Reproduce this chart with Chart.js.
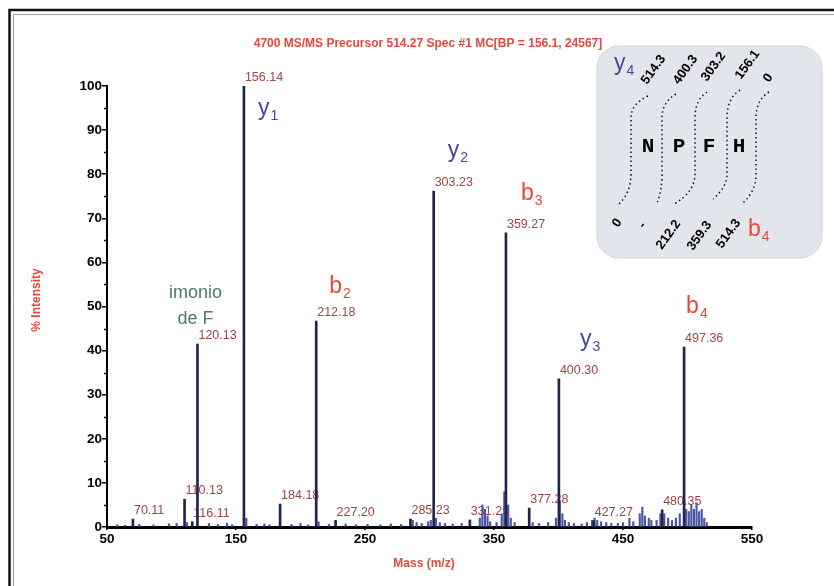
<!DOCTYPE html>
<html>
<head>
<meta charset="utf-8">
<title>MS/MS spectrum</title>
<script src="https://cdn.jsdelivr.net/npm/chart.js"></script>
<style>
  body { margin: 0; background: #fff; }
  canvas { display: block; }
</style>
</head>
<body>
<canvas id="spectrum" width="834" height="586"></canvas>
<script>
// axis ticks
var xTicks = [50, 150, 250, 350, 450, 550];
var yTicks = [0, 10, 20, 30, 40, 50, 60, 70, 80, 90, 100];

// labelled peaks (m/z, % intensity)
var peakMass  = [70.11, 110.13, 116.11, 120.13, 156.14, 184.18, 212.18, 227.20, 285.23, 303.23, 331.29, 359.27, 377.28, 400.30, 427.27, 480.35, 497.36];
var peakInt   = [1.8, 6.3, 1.2, 41.5, 100, 5.2, 46.7, 1.5, 1.8, 76.2, 1.6, 66.7, 4.3, 33.6, 1.5, 3.9, 40.8];
var peakLabel = ['70.11', '110.13', '116.11', '120.13', '156.14', '184.18', '212.18', '227.20', '285.23', '303.23', '331.29', '359.27', '377.28', '400.30', '427.27', '480.35', '497.36'];

// unlabelled baseline / cluster signals
var noiseMass = [58, 64, 75, 86, 98, 104, 112, 129, 136, 143, 147, 158, 166, 172, 176, 193, 200, 206,
                 214, 222, 235, 243, 252, 262, 270, 278, 287, 290, 294, 299, 301, 305, 308, 312, 318, 325,
                 339, 341, 343, 345, 347, 352, 356, 358, 361, 363, 366, 380, 385, 392, 398, 401, 403, 405,
                 408, 412, 418, 422, 426, 428, 430, 433, 437, 441, 446, 450, 455, 458, 463, 465, 467, 470,
                 472, 476, 479, 482, 485, 488, 491, 494, 499, 501, 503, 505, 507, 509, 511, 513, 515];
var noiseInt  = [0.5, 0.4, 0.6, 0.5, 0.7, 0.8, 1.0, 0.8, 0.6, 0.9, 0.5, 2.0, 0.6, 0.7, 0.5, 0.6, 0.8, 0.5,
                 1.2, 0.6, 0.7, 0.5, 0.6, 0.5, 0.7, 0.6, 1.5, 1.0, 0.8, 1.2, 1.5, 2.0, 1.0, 0.8, 0.7, 0.8,
                 2.0, 5.0, 4.0, 2.5, 1.2, 1.0, 3.0, 8.0, 5.0, 2.0, 1.0, 1.0, 0.8, 1.0, 2.0, 6.0, 3.0, 1.5,
                 1.0, 0.8, 0.7, 1.0, 1.5, 2.0, 1.5, 1.2, 1.0, 0.8, 0.8, 1.0, 2.0, 1.2, 3.0, 4.5, 2.5, 2.0,
                 1.5, 1.5, 3.0, 3.0, 2.0, 1.5, 2.0, 3.0, 4.0, 3.5, 5.0, 4.0, 5.5, 3.5, 4.0, 2.0, 1.0];

// fragment ion annotations
var ionLetter = ['y', 'y', 'b', 'b', 'y', 'b'];
var ionIndex  = ['1', '2', '3', '2', '3', '4'];
var ionMass   = [156.14, 303.23, 359.27, 212.18, 400.30, 497.36];
var ionOffset = [[14, 29], [14, -34], [15, -33], [13, -28], [21, -33], [2, -34]];

var title = '4700 MS/MS Precursor 514.27 Spec #1 MC[BP = 156.1, 24567]';
var sequence = ['N', 'P', 'F', 'H'];
var ySeries = ['514.3', '400.3', '303.2', '156.1', '0'];
var bSeries = ['0', '-', '212.2', '359.3', '514.3'];

var RED = '#e6483c', BLUE = '#45479c', LABEL = '#9c4646';

function drawIon(ctx, letter, sub, x, y, color, big, small) {
  ctx.fillStyle = color;
  ctx.textAlign = 'left';
  ctx.textBaseline = 'alphabetic';
  ctx.font = big + 'px Arial';
  ctx.fillText(letter, x, y);
  var w = ctx.measureText(letter).width;
  ctx.font = small + 'px Arial';
  ctx.fillText(sub, x + w + 1, y + 5);
}

var page = {
  id: 'page',
  beforeDraw: function(chart) {
    var ctx = chart.ctx;
    ctx.save();
    ctx.fillStyle = '#fff';
    ctx.fillRect(0, 0, chart.width, chart.height);
    // scanned frame
    ctx.strokeStyle = '#111';
    ctx.lineWidth = 2.5;
    ctx.beginPath();
    ctx.moveTo(9.5, 600); ctx.lineTo(9.5, 10); ctx.lineTo(840, 10);
    ctx.stroke();
    ctx.strokeStyle = '#9aa0ad';
    ctx.lineWidth = 1;
    ctx.beginPath();
    ctx.moveTo(13.5, 600); ctx.lineTo(13.5, 14.5); ctx.lineTo(840, 14.5);
    ctx.stroke();
    ctx.restore();
  },
  beforeDatasetsDraw: function(chart) {
    var ctx = chart.ctx, x = chart.scales.x, y = chart.scales.y;
    ctx.save();
    ctx.fillStyle = LABEL;
    ctx.font = '12.5px Arial';
    ctx.textAlign = 'left';
    ctx.textBaseline = 'bottom';
    for (var i = 0; i < peakMass.length; i++) {
      ctx.fillText(peakLabel[i], x.getPixelForValue(peakMass[i]) + 1, y.getPixelForValue(peakInt[i]) - 2);
    }
    ctx.restore();
  },
  afterDraw: function(chart) {
    var ctx = chart.ctx, x = chart.scales.x, y = chart.scales.y, a = chart.chartArea;
    ctx.save();
    // minor y ticks
    ctx.strokeStyle = '#000';
    ctx.lineWidth = 1.5;
    for (var v = 5; v < 100; v += 10) {
      var py = Math.round(y.getPixelForValue(v)) + 0.5;
      ctx.beginPath(); ctx.moveTo(a.left - 3, py); ctx.lineTo(a.left, py); ctx.stroke();
    }
    // titles
    ctx.fillStyle = RED;
    ctx.font = 'bold 12px Arial';
    ctx.textAlign = 'center';
    ctx.textBaseline = 'middle';
    ctx.fillText(title, 428, 44);
    ctx.font = 'bold 12px Arial';
    ctx.fillText('Mass (m/z)', 424, 564);
    ctx.save();
    ctx.translate(37, 300);
    ctx.rotate(-Math.PI / 2);
    ctx.fillText('% Intensity', 0, 0);
    ctx.restore();

    // ion labels
    for (var i = 0; i < ionMass.length; i++) {
      var k = peakMass.indexOf(ionMass[i]);
      var px = x.getPixelForValue(ionMass[i]) + ionOffset[i][0];
      var py2 = y.getPixelForValue(peakInt[k]) + ionOffset[i][1];
      drawIon(ctx, ionLetter[i], ionIndex[i], px, py2, ionLetter[i] === 'y' ? BLUE : RED, 23, 14);
    }
    // immonium ion
    var ix = x.getPixelForValue(120.13) - 2;
    var iy = y.getPixelForValue(41.5);
    ctx.fillStyle = '#4f7a68';
    ctx.font = '18px Arial';
    ctx.textAlign = 'center';
    ctx.textBaseline = 'alphabetic';
    ctx.fillText('imonio', ix, iy - 46);
    ctx.fillText('de F', ix, iy - 20);

    // sequence inset
    ctx.fillStyle = '#e3e5ed';
    ctx.strokeStyle = '#d0d3dd';
    ctx.lineWidth = 1;
    ctx.beginPath();
    ctx.roundRect(597, 46, 225, 212, 22);
    ctx.fill(); ctx.stroke();

    drawIon(ctx, 'y', '4', 614, 70, BLUE, 23, 14);
    drawIon(ctx, 'b', '4', 748, 236, RED, 23, 14);

    ctx.fillStyle = '#000';
    ctx.font = 'bold 13px Arial';
    ctx.textAlign = 'left';
    ctx.textBaseline = 'alphabetic';
    var topPos = [[647, 85], [679, 85], [707, 82], [741, 80], [769, 83]];
    var botPos = [[618, 228], [644, 229], [662, 250], [693, 251], [722, 249]];
    for (var j = 0; j < 5; j++) {
      ctx.save(); ctx.translate(topPos[j][0], topPos[j][1]); ctx.rotate(-0.95); ctx.fillText(ySeries[j], 0, 0); ctx.restore();
      ctx.save(); ctx.translate(botPos[j][0], botPos[j][1]); ctx.rotate(-0.95); ctx.fillText(bSeries[j], 0, 0); ctx.restore();
    }

    ctx.font = 'bold 21px "Liberation Mono", "Courier New", monospace';
    ctx.textAlign = 'center';
    ctx.textBaseline = 'middle';
    var seqX = [648, 679, 709, 739];
    for (var s = 0; s < sequence.length; s++) ctx.fillText(sequence[s], seqX[s], 147);

    // dotted cleavage lines
    var curves = [[648, 96, 631, 618, 205], [676, 94, 662, 657, 203], [707, 92, 695, 674, 204], [740, 90, 727, 713, 199], [769, 92, 756, 743, 203]];
    ctx.setLineDash([1.5, 3]);
    ctx.lineWidth = 1.5;
    ctx.strokeStyle = '#111';
    curves.forEach(function(c) {
      ctx.beginPath();
      ctx.moveTo(c[0], c[1]);
      ctx.quadraticCurveTo(c[2], c[1] + 8, c[2], 118);
      ctx.lineTo(c[2], 174);
      ctx.quadraticCurveTo(c[2], c[4] - 12, c[3], c[4]);
      ctx.stroke();
    });
    ctx.restore();
  }
};

new Chart(document.getElementById('spectrum'), {
  type: 'bar',
  data: {
    datasets: [{
      label: 'peaks',
      data: peakMass.map(function(m, i) { return { x: m, y: peakInt[i] }; }),
      backgroundColor: '#22244a',
      barThickness: 2,
      grouped: false,
      order: 1
    }, {
      label: 'noise',
      data: noiseMass.map(function(m, i) { return { x: m, y: noiseInt[i] }; }),
      backgroundColor: '#4a55a3',
      barThickness: 1.5,
      grouped: false,
      order: 2
    }]
  },
  options: {
    responsive: false,
    animation: false,
    layout: { padding: { left: 47, right: 82, top: 86, bottom: 29 } },
    plugins: { legend: { display: false }, tooltip: { enabled: false } },
    scales: {
      x: {
        type: 'linear', min: 50, max: 550, offset: false,
        afterBuildTicks: function(s) { s.ticks = xTicks.map(function(v) { return { value: v }; }); },
        afterFit: function(s) { s.height = 30; },
        grid: { drawOnChartArea: false, offset: false, tickLength: 3, color: '#000', lineWidth: 1.5 },
        border: { color: '#000', width: 3 },
        ticks: { color: '#000', padding: 1, maxRotation: 0, font: { family: 'Arial', weight: 'bold', size: 13.5 } }
      },
      y: {
        min: 0, max: 100,
        afterBuildTicks: function(s) { s.ticks = yTicks.map(function(v) { return { value: v }; }); },
        afterFit: function(s) { s.width = 60; },
        grid: { drawOnChartArea: false, tickLength: 5, color: '#000', lineWidth: 1.5 },
        border: { color: '#000', width: 2 },
        ticks: { color: '#000', padding: 0, font: { family: 'Arial', weight: 'bold', size: 13.5 } }
      }
    }
  },
  plugins: [page]
});
</script>
</body>
</html>
